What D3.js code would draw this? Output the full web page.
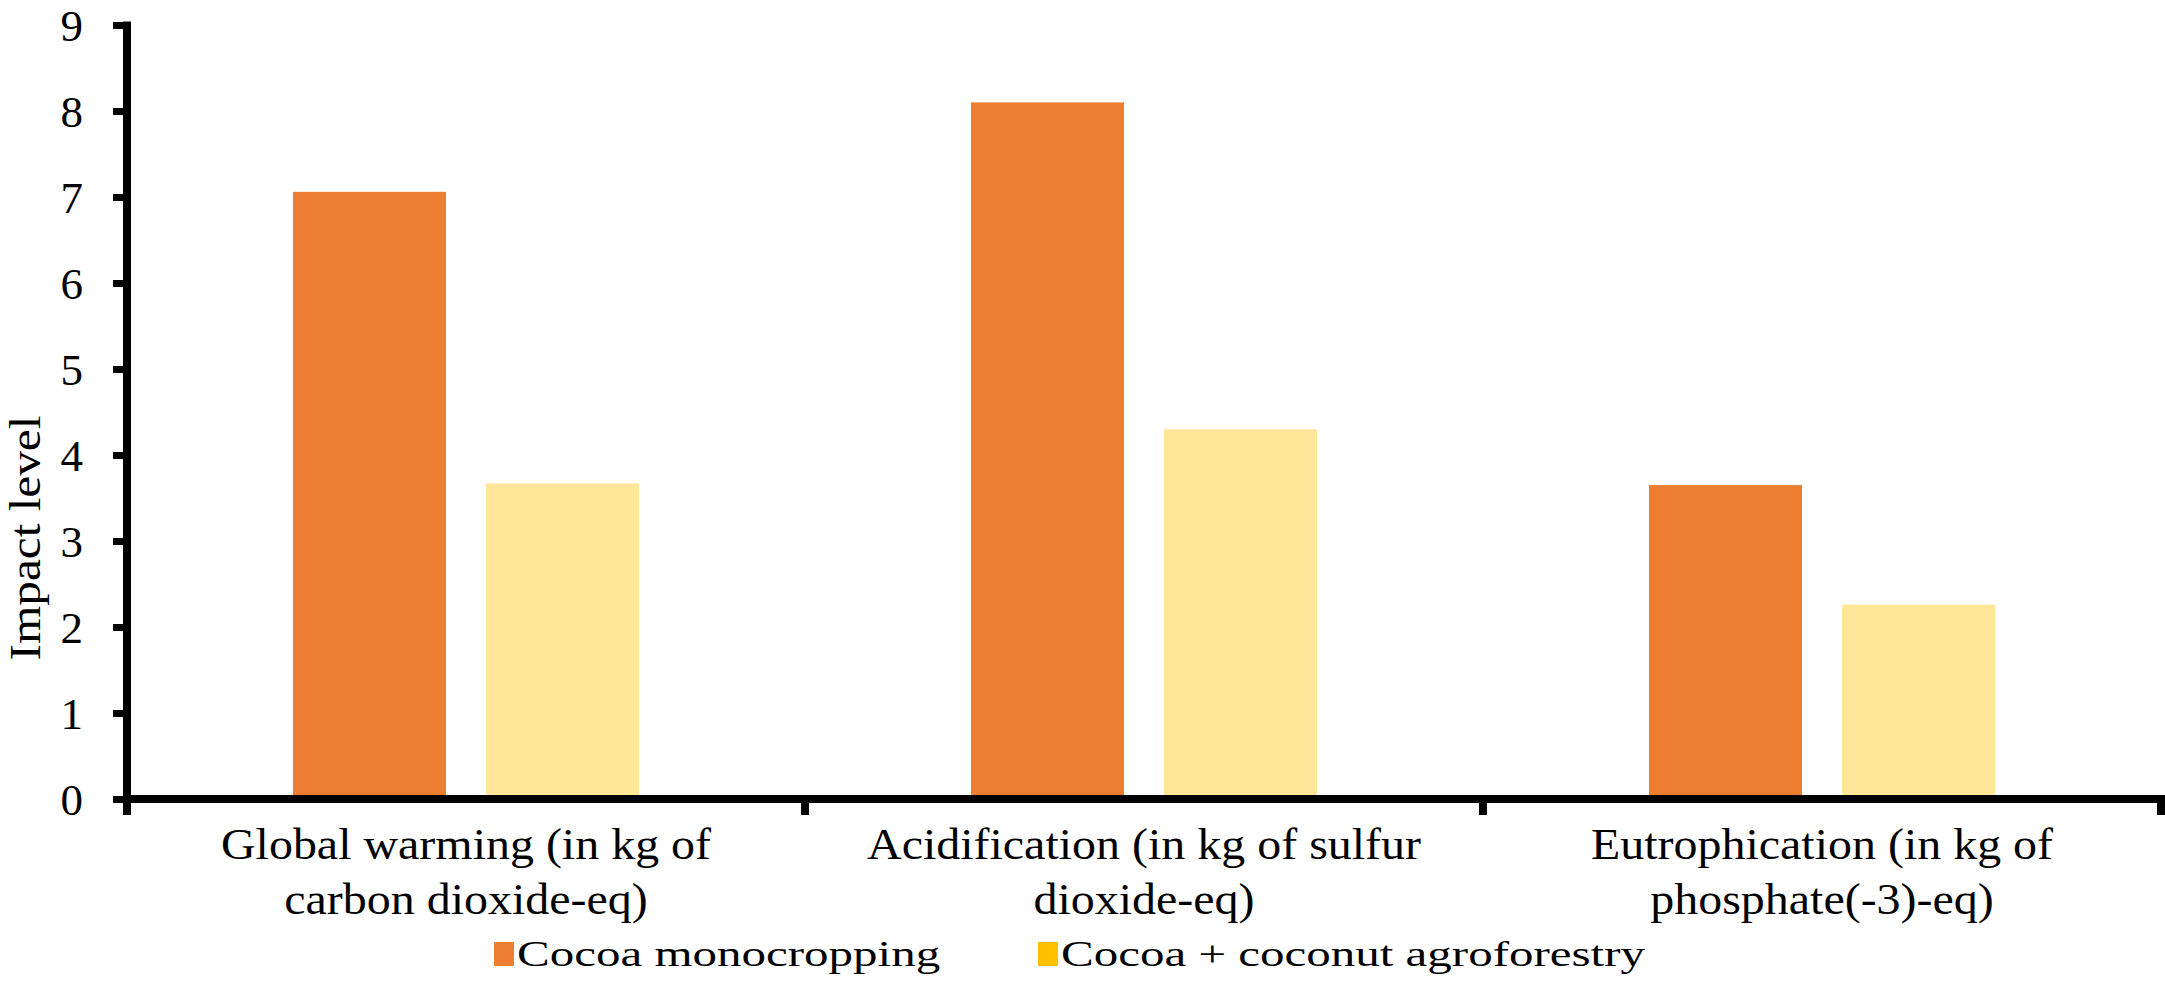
<!DOCTYPE html>
<html>
<head>
<meta charset="utf-8">
<script src="https://cdn.jsdelivr.net/npm/d3@7"></script>
<style>
  html, body { margin: 0; padding: 0; background: #fff; }
  text { font-family: "Liberation Serif", "Times New Roman", serif; fill: #000; }
</style>
</head>
<body>
<svg id="chart" width="2165" height="984"></svg>
<script>
const categories = [
  ["Global warming (in kg of", "carbon dioxide-eq)"],
  ["Acidification (in kg of sulfur", "dioxide-eq)"],
  ["Eutrophication (in kg of", "phosphate(-3)-eq)"]
];
const seriesNames = ["Cocoa monocropping", "Cocoa + coconut agroforestry"];
const monocropping = [7.06, 8.10, 3.65];
const agroforestry = [3.67, 4.30, 2.26];
const yTicks = [0, 1, 2, 3, 4, 5, 6, 7, 8, 9];
const barColors = ["#ED7D31", "#FFE699"];
const legendColors = ["#ED7D31", "#FFC000"];

(function () {
const svg = d3.select("#chart");
const mLeft = 127, mRight = 2161, mTop = 25, mBottom = 799;

const catKeys = categories.map((c, i) => i);
const x = d3.scaleBand().domain(catKeys).range([mLeft, mRight]).paddingInner(0).paddingOuter(0);
const x1 = d3.scaleBand().domain([0, 1]).range([0, x.bandwidth()]).paddingInner(0.2073).paddingOuter(0.86);
const y = d3.scaleLinear().domain([0, 9]).range([mBottom, mTop]);

const values = [monocropping, agroforestry];

// bars
const g = svg.append("g");
catKeys.forEach(ci => {
  values.forEach((vals, si) => {
    g.append("rect")
      .attr("x", x(ci) + x1(si))
      .attr("y", y(vals[ci]))
      .attr("width", x1.bandwidth())
      .attr("height", y(0) - y(vals[ci]))
      .attr("fill", barColors[si]);
  });
});

// y axis
const yAxis = d3.axisLeft(y).tickValues(yTicks).tickSize(14).tickPadding(30).tickFormat(d3.format("d"));
const ya = svg.append("g").attr("transform", `translate(${mLeft},0)`).call(yAxis);
ya.select(".domain").remove();
ya.selectAll(".tick line").attr("stroke", "#000").attr("stroke-width", 7);
ya.selectAll(".tick text").style("font-family", "Liberation Serif").style("font-size", "45px").attr("dy", "0.34em");
svg.append("line").attr("x1", mLeft).attr("x2", mLeft).attr("y1", y(9) - 3.5).attr("y2", mBottom + 16)
  .attr("stroke", "#000").attr("stroke-width", 8);

// x axis
svg.append("line").attr("x1", mLeft - 4).attr("x2", mRight + 4).attr("y1", mBottom).attr("y2", mBottom)
  .attr("stroke", "#000").attr("stroke-width", 8);
const boundaries = catKeys.map(ci => x(ci)).concat([mRight]);
svg.selectAll(".xtick").data(boundaries).enter().append("line")
  .attr("x1", d => d).attr("x2", d => d).attr("y1", mBottom).attr("y2", mBottom + 16)
  .attr("stroke", "#000").attr("stroke-width", 8);

// category labels
catKeys.forEach(ci => {
  const cx = x(ci) + x.bandwidth() / 2;
  categories[ci].forEach((line, li) => {
    svg.append("text").attr("text-anchor", "middle")
      .attr("transform", `translate(${cx},${859 + li * 55}) scale(1.09,1)`)
      .style("font-size", "44px").text(line);
  });
});

// y title
svg.append("text").attr("transform", "translate(40,538) rotate(-90) scale(1.12,1)")
  .attr("text-anchor", "middle").style("font-size", "44px").text("Impact level");

// legend
const legendX = [494, 1038];
seriesNames.forEach((name, i) => {
  svg.append("rect").attr("x", legendX[i]).attr("y", 942).attr("width", 20).attr("height", 24)
    .attr("fill", legendColors[i]);
  svg.append("text").attr("transform", `translate(${legendX[i] + 23},966) scale(1,0.72)`)
    .style("font-size", "49px").text(name);
});
})();
</script>
</body>
</html>
